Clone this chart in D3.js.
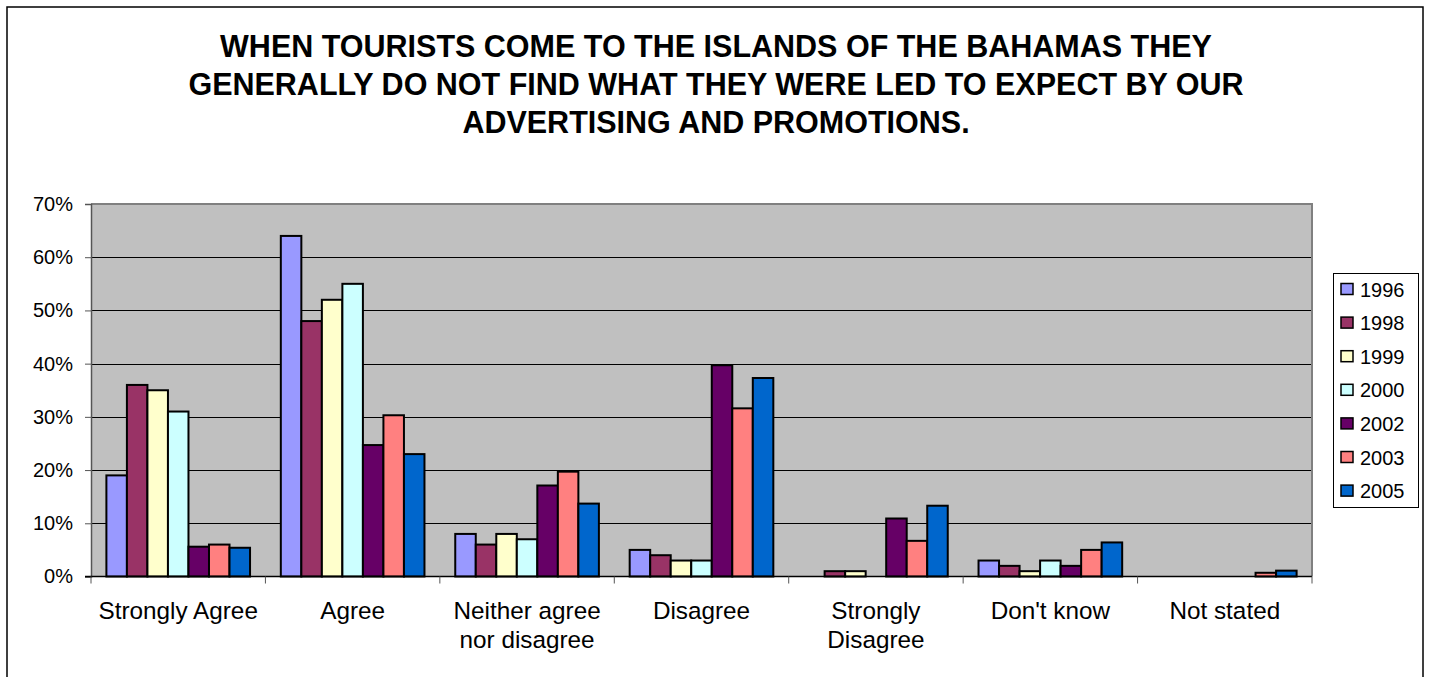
<!DOCTYPE html>
<html>
<head>
<meta charset="utf-8">
<script src="https://cdn.jsdelivr.net/npm/d3@7"></script>
<style>
  html, body { margin: 0; padding: 0; background: #fff; }
  svg { display: block; font-family: "Liberation Sans", Arial, sans-serif; }
</style>
</head>
<body>
<svg id="chart" width="1429" height="677"></svg>
<script>
// Survey responses by year (percent of respondents)
const categories = ["Strongly Agree", "Agree", "Neither agree\nnor disagree", "Disagree", "Strongly\nDisagree", "Don't know", "Not stated"];
const years = ["1996", "1998", "1999", "2000", "2002", "2003", "2005"];
const v1996 = [19, 64, 8, 5, 0, 3, 0];
const v1998 = [36, 48, 6, 4, 1, 2, 0];
const v1999 = [35, 52, 8, 3, 1, 1, 0];
const v2000 = [31, 55, 7, 3, 0, 3, 0];
const v2002 = [5.6, 24.7, 17.1, 39.7, 10.9, 2, 0];
const v2003 = [6, 30.3, 19.7, 31.6, 6.7, 5, 0.7];
const v2005 = [5.4, 23, 13.7, 37.3, 13.3, 6.4, 1.1];
const seriesValues = [v1996, v1998, v1999, v2000, v2002, v2003, v2005];
const yTicks = [0, 10, 20, 30, 40, 50, 60, 70];
const titleLines = [
  "WHEN TOURISTS COME TO THE ISLANDS OF THE BAHAMAS THEY",
  "GENERALLY DO NOT FIND WHAT THEY WERE LED TO EXPECT BY OUR",
  "ADVERTISING AND PROMOTIONS."
];
const colors = ["#9999FF", "#993366", "#FFFFCC", "#CCFFFF", "#660066", "#FF8080", "#0066CC"];

const svg = d3.select("#chart");

// outer chart frame
svg.append("rect")
  .attr("x", 7).attr("y", 7).attr("width", 1416).attr("height", 700)
  .attr("fill", "#fff").attr("stroke", "#000").attr("stroke-width", 1.5);

// title
svg.append("g").selectAll("text").data(titleLines).join("text")
  .attr("x", 716).attr("y", (d, i) => 57 + i * 38)
  .attr("text-anchor", "middle")
  .attr("font-size", 30.5).attr("font-weight", "bold").attr("fill", "#000")
  .text(d => d);

const plot = { left: 91, right: 1312, top: 204, bottom: 576.5 };

const x0 = d3.scaleBand().domain(categories).range([plot.left, plot.right]).padding(0);
const x1 = d3.scaleBand().domain(years).range([0, x0.bandwidth()]).paddingInner(0).paddingOuter(0.75);
const y = d3.scaleLinear().domain([0, 70]).range([plot.bottom, plot.top]);
const color = d3.scaleOrdinal().domain(years).range(colors);

// plot background
svg.append("rect")
  .attr("x", plot.left).attr("y", plot.top)
  .attr("width", plot.right - plot.left).attr("height", plot.bottom - plot.top)
  .attr("fill", "#C0C0C0");

// gridlines
svg.append("g").selectAll("line").data(yTicks.filter(t => t > 0 && t < 70)).join("line")
  .attr("x1", plot.left).attr("x2", plot.right)
  .attr("y1", d => Math.round(y(d)) + 0.5).attr("y2", d => Math.round(y(d)) + 0.5)
  .attr("stroke", "#000").attr("stroke-width", 1);

// plot frame (top and right)
svg.append("path")
  .attr("d", `M${plot.left},${plot.top} H${plot.right} V${plot.bottom}`)
  .attr("fill", "none").attr("stroke", "#808080").attr("stroke-width", 2);

// bars
const rows = categories.map((c, ci) => ({
  cat: c,
  vals: years.map((yr, si) => ({ year: yr, v: seriesValues[si][ci] }))
}));

const groups = svg.append("g").selectAll("g").data(rows).join("g")
  .attr("transform", d => `translate(${x0(d.cat)},0)`);

groups.selectAll("rect").data(d => d.vals.filter(e => e.v > 0)).join("rect")
  .attr("x", d => x1(d.year))
  .attr("width", x1.bandwidth())
  .attr("y", d => y(d.v))
  .attr("height", d => y(0) - y(d.v))
  .attr("fill", d => color(d.year))
  .attr("stroke", "#000").attr("stroke-width", 2);

// y axis
const yAxis = d3.axisLeft(y).tickValues(yTicks).tickSize(6).tickFormat(d => d + "%");
const yg = svg.append("g").attr("transform", `translate(${plot.left},0)`).call(yAxis);
yg.select(".domain").attr("stroke", "#555").attr("stroke-width", 1.5);
yg.selectAll(".tick line").attr("stroke", "#555");
yg.selectAll(".tick text")
  .attr("x", -18).attr("font-size", 20).attr("fill", "#000")
  .attr("font-family", "'Liberation Sans', Arial, sans-serif");

// x axis line and category boundary ticks
svg.append("line")
  .attr("x1", plot.left - 6).attr("x2", plot.right)
  .attr("y1", plot.bottom).attr("y2", plot.bottom)
  .attr("stroke", "#000").attr("stroke-width", 1.5);
const bounds = categories.map(c => x0(c)).concat([plot.right]);
svg.append("g").selectAll("line").data(bounds).join("line")
  .attr("x1", d => d).attr("x2", d => d)
  .attr("y1", plot.bottom).attr("y2", plot.bottom + 7)
  .attr("stroke", "#555").attr("stroke-width", 1);

// category labels
const labels = svg.append("g").selectAll("text").data(categories).join("text")
  .attr("x", d => x0(d) + x0.bandwidth() / 2)
  .attr("y", 619)
  .attr("text-anchor", "middle")
  .attr("font-size", 24.3).attr("fill", "#000");
labels.selectAll("tspan").data(d => d.split("\n")).join("tspan")
  .attr("x", function() { return d3.select(this.parentNode).attr("x"); })
  .attr("dy", (d, i) => i === 0 ? 0 : 28.5)
  .text(d => d);

// legend
const legend = svg.append("g");
legend.append("rect")
  .attr("x", 1333.5).attr("y", 273.5).attr("width", 85).attr("height", 234)
  .attr("fill", "#fff").attr("stroke", "#000").attr("stroke-width", 1);
const items = legend.selectAll("g").data(years).join("g")
  .attr("transform", (d, i) => `translate(1341,${289 + i * 33.6})`);
items.append("rect")
  .attr("x", 0).attr("y", -5.5).attr("width", 12).attr("height", 11)
  .attr("fill", d => color(d)).attr("stroke", "#000").attr("stroke-width", 1.5);
items.append("text")
  .attr("x", 19).attr("y", 7.5)
  .attr("font-size", 20).attr("fill", "#000")
  .text(d => d);
</script>
</body>
</html>
